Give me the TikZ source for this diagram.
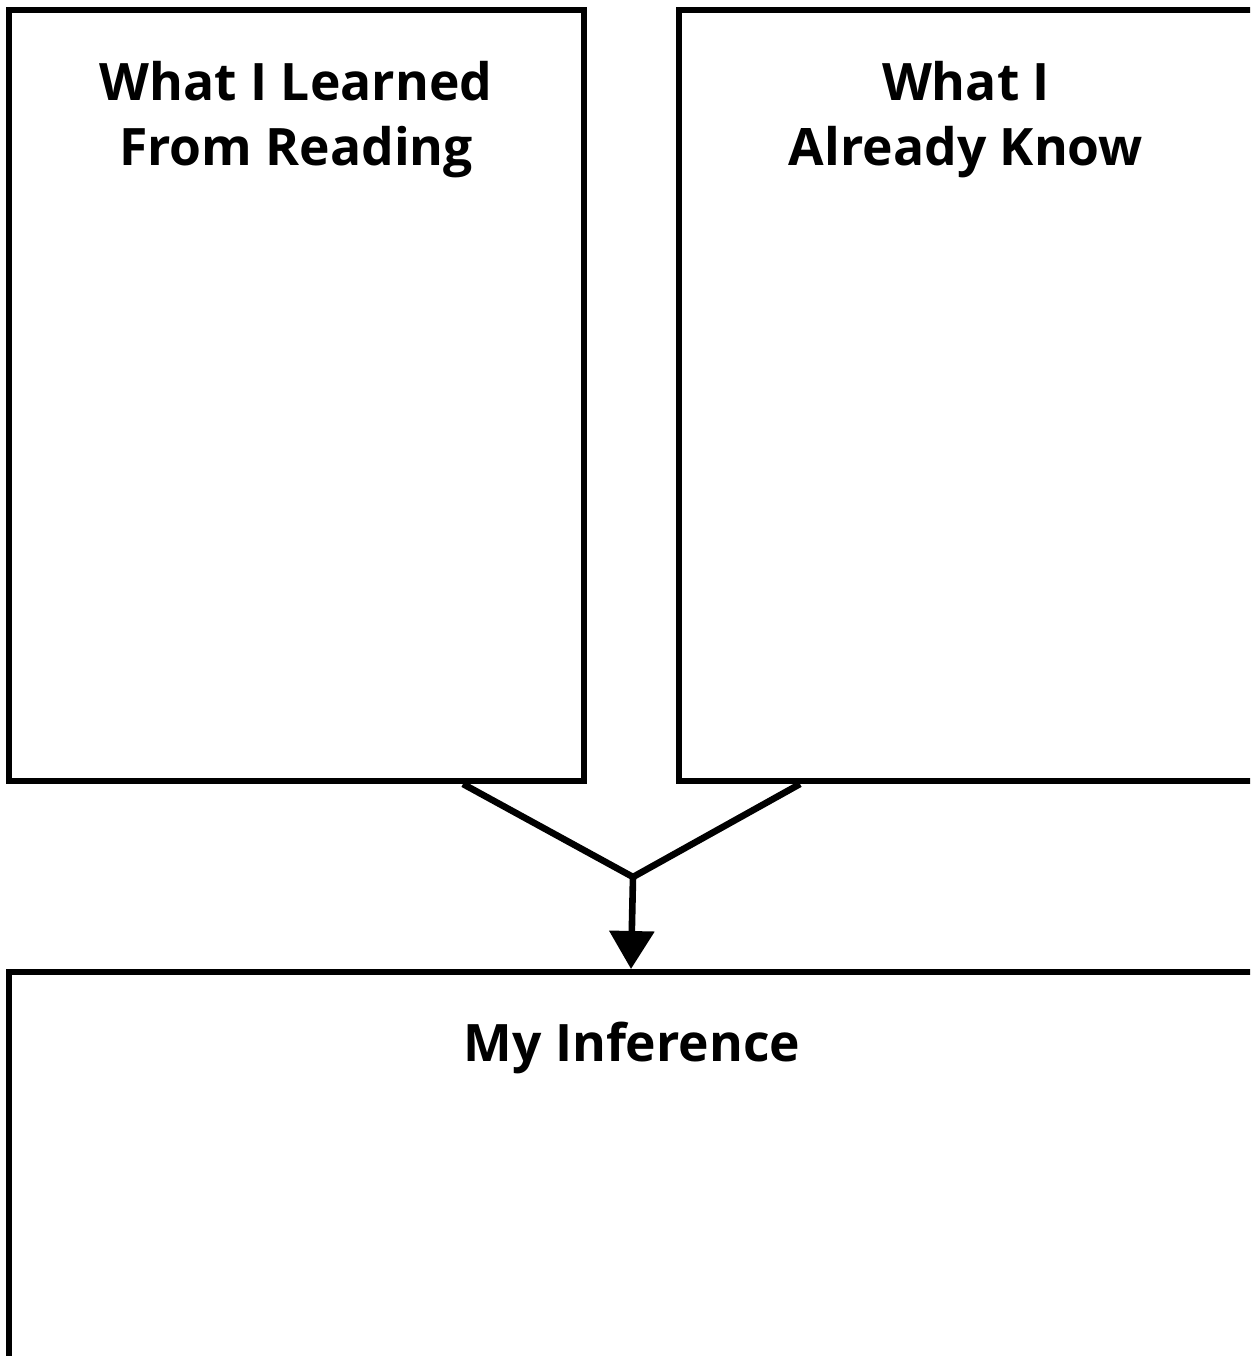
\documentclass[tikz,border=0pt]{standalone}
\usepackage{fontspec}
\setmainfont{Open Sans}
\usetikzlibrary{arrows.meta,calc}
\begin{document}
\begin{tikzpicture}[x=0.5pt,y=-0.5pt,
  panel/.style={draw=black,line width=3pt,rectangle,inner sep=0pt},
  title/.style={font=\bfseries\fontsize{25.8}{32.5}\selectfont,align=center,inner sep=0pt,anchor=north},
  conn/.style={draw=black,line width=3.3pt,line join=miter}]
\useasboundingbox (0,0) rectangle (1250,1356);
\clip (0,0) rectangle (1250,1356);
\fill[white] (0,0) rectangle (1250,1356);
\node[panel,minimum width=287.5pt,minimum height=385.5pt] (L) at (296.5,395.5) {};
\node[panel,minimum width=291.5pt,minimum height=385.5pt] (R) at (970.5,395.5) {};
\node[panel,minimum width=626.5pt,minimum height=199pt] (B) at (635.5,1171) {};
\node[title] (tL) at (296,61) {What I Learned\\From Reading};
\node[title] (tR) at (966,61) {What I\\Already Know};
\node[title] (tB) at (632,1022) {My Inference};
\coordinate (j) at (633,877);
\draw[conn] ([xshift=83.25pt]L.south) -- (j) -- ([xshift=-85.25pt]R.south);
\draw[conn,-{Triangle[length=19pt,width=22pt]}] (j) -- ([xshift=-2.25pt]B.north);
\end{tikzpicture}
\end{document}
